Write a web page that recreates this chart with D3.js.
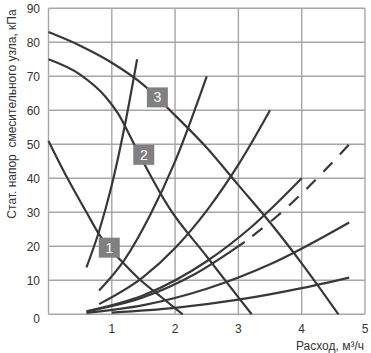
<!DOCTYPE html>
<html>
<head>
	<meta charset="utf-8">
	<title>Напор смесительного узла</title>
	<style>
		body { margin: 0; background: #fff; }
		svg { display: block; font-family: "Liberation Sans", Arial, sans-serif; }
	</style>
</head>
<body>
	<svg width="371" height="353"></svg>
<script src="https://cdn.jsdelivr.net/npm/d3@7"></script>
<script>
	// ticks
	const xTicks = [1, 2, 3, 4, 5]
	const yTicks = [0, 10, 20, 30, 40, 50, 60, 70, 80, 90]

	// pump curves (descending), [расход, напор]
	const pump1 = [[0, 51], [0.3, 40], [0.6, 30], [0.8, 23.5], [1.16, 15.5], [1.42, 10.6], [1.8, 4.8], [2.12, 0]]
	const pump2 = [[0, 75], [0.5, 70.5], [0.9, 64], [1.1, 59], [1.34, 50.5], [1.52, 44], [1.9, 31.5], [2.5, 17], [3.0, 5], [3.21, 0]]
	const pump3 = [[0, 83], [0.5, 79], [1.0, 74], [1.5, 67.5], [2.0, 58.5], [2.5, 49], [3.0, 38], [3.5, 27], [4.0, 15], [4.58, 0]]

	// system curves (ascending)
	const sysA = [[0.6, 13.8], [0.8, 24.5], [1.0, 38], [1.2, 55], [1.4, 75]]
	const sysB = [[0.8, 7], [1.2, 16], [1.6, 29], [2.0, 45], [2.5, 70]]
	const sysC = [[0.8, 3], [1.5, 11], [2.0, 19.5], [2.5, 30.5], [3.0, 44], [3.5, 60]]
	const sysD = [[0.6, 0.9], [1.5, 5.6], [2.5, 15.6], [3.2, 25.6], [4.0, 40]]
	const sysE = [[0.6, 0.8], [1.5, 5], [2.3, 11.7], [3.1, 21.3]]
	const sysEdash = [[3.22, 23], [3.6, 28.7], [4.0, 35.5], [4.4, 43], [4.75, 50]]
	const sysF = [[0.6, 0.4], [1.5, 2.7], [2.5, 7.5], [3.5, 14.7], [4.75, 27]]
	const sysG = [[1.0, 0.5], [2.0, 1.9], [3.0, 4.3], [4.0, 7.7], [4.75, 10.8]]

	// curve labels
	const labelNames = ["1", "2", "3"]
	const labelX = [0.96, 1.505, 1.72]
	const labelY = [19.6, 46.9, 63.8]

	const svg = d3.select("svg")
	const x = d3.scaleLinear().domain([0, 5]).range([48.5, 365])
	const y = d3.scaleLinear().domain([0, 90]).range([314.3, 8.3])

	// grid
	const grid = svg.append("g").attr("stroke", "#a6a6a6").attr("stroke-width", 1.4)
	grid.selectAll("line.h").data(yTicks).enter().append("line")
		.attr("x1", x(0)).attr("x2", x(5))
		.attr("y1", d => y(d)).attr("y2", d => y(d))
	grid.selectAll("line.v").data([0].concat(xTicks)).enter().append("line")
		.attr("y1", y(0)).attr("y2", y(90))
		.attr("x1", d => x(d)).attr("x2", d => x(d))

	// tick labels
	svg.append("g").selectAll("text").data(yTicks).enter().append("text")
		.attr("x", 40).attr("y", d => y(d) + (d === 0 ? 4 : 0)).attr("dy", "0.36em")
		.attr("text-anchor", "end").attr("font-size", 12).attr("fill", "#333")
		.text(d => d)
	svg.append("g").selectAll("text").data(xTicks).enter().append("text")
		.attr("x", d => x(d)).attr("y", 333)
		.attr("text-anchor", "middle").attr("font-size", 12).attr("fill", "#333")
		.text(d => d)

	// axis titles
	svg.append("text")
		.attr("x", 364).attr("y", 350).attr("text-anchor", "end")
		.attr("font-size", 12).attr("fill", "#333")
		.text("Расход, м³/ч")
	svg.append("text")
		.attr("transform", "translate(16,114) rotate(-90)")
		.attr("text-anchor", "middle").attr("font-size", 12).attr("fill", "#333")
		.style("white-space", "pre")
		.text("Стат. напор  смесительного узла, кПа")

	// curves
	const line = d3.line().x(d => x(d[0])).y(d => y(d[1])).curve(d3.curveMonotoneX)
	const lines = svg.append("g").attr("fill", "none").attr("stroke", "#383838").attr("stroke-width", 2.2)
	lines.selectAll("path").data([pump1, pump2, pump3, sysA, sysB, sysC, sysD, sysE, sysF, sysG])
		.enter().append("path").attr("d", line)
	lines.append("path").attr("d", line(sysEdash)).attr("stroke-dasharray", "13,11")

	// labels
	const lab = svg.append("g").selectAll("g").data(labelNames).enter().append("g")
		.attr("transform", (d, i) => `translate(${x(labelX[i])},${y(labelY[i])})`)
	lab.append("rect").attr("x", -10.5).attr("y", -10).attr("width", 21).attr("height", 20).attr("fill", "#808080")
	lab.append("text").attr("dy", "0.36em").attr("text-anchor", "middle")
		.attr("font-size", 14).attr("fill", "#fff").text(d => d)
</script>
</body>
</html>
